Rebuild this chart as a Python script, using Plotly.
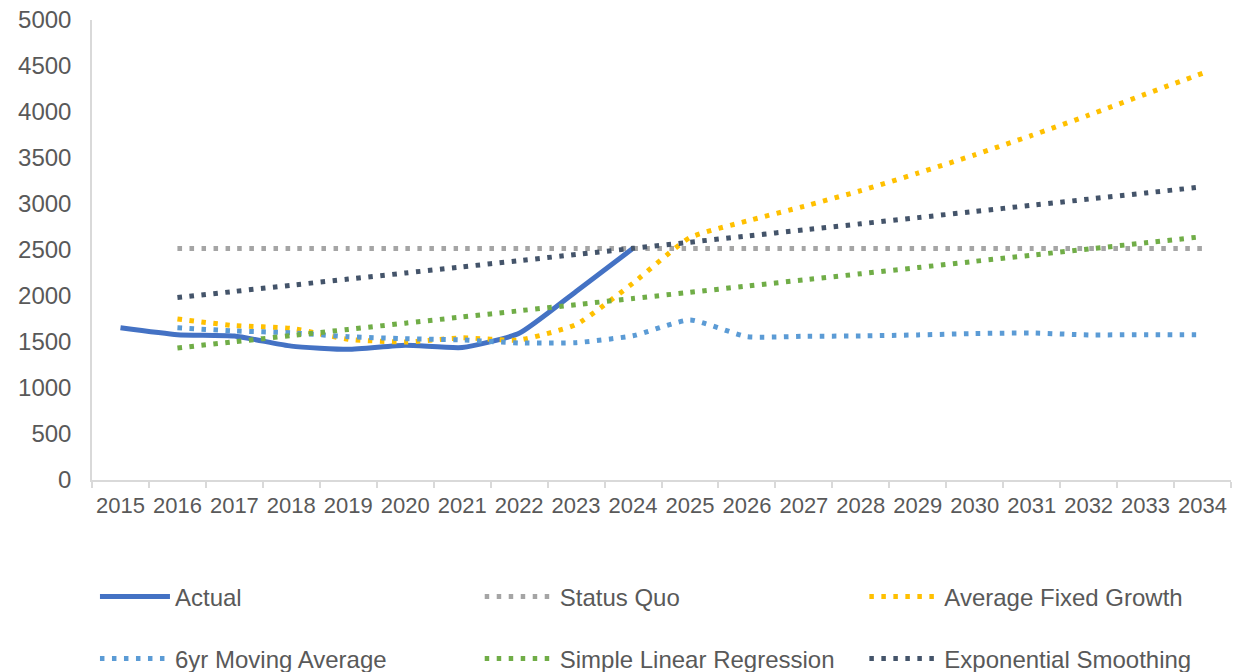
import plotly.graph_objects as go

years = ["2015", "2016", "2017", "2018", "2019", "2020", "2021", "2022", "2023", "2024",
         "2025", "2026", "2027", "2028", "2029", "2030", "2031", "2032", "2033", "2034"]

actual = [1655, 1580, 1565, 1455, 1420, 1465, 1440, 1595, 2050, 2518,
          None, None, None, None, None, None, None, None, None, None]
status_quo = [None, 2515, 2515, 2515, 2515, 2515, 2515, 2515, 2515, 2515,
              2515, 2515, 2515, 2515, 2515, 2515, 2515, 2515, 2515, 2515]
avg_fixed_growth = [None, 1750, 1678, 1648, 1530, 1500, 1545, 1522, 1690, 2140,
                    2635, 2815, 2975, 3145, 3335, 3535, 3745, 3965, 4195, 4420]
moving_avg = [None, 1655, 1620, 1600, 1558, 1536, 1522, 1490, 1493, 1568,
              1740, 1558, 1562, 1566, 1577, 1592, 1598, 1577, 1580, 1580]
linear_reg = [None, 1435, 1503, 1570, 1637, 1705, 1772, 1839, 1906, 1973,
              2040, 2108, 2175, 2242, 2309, 2377, 2444, 2511, 2578, 2645]
exp_smooth = [None, 1983, 2050, 2117, 2184, 2250, 2317, 2384, 2451, 2518,
              2585, 2652, 2719, 2785, 2852, 2919, 2986, 3053, 3120, 3186]

y_ticks = [0, 500, 1000, 1500, 2000, 2500, 3000, 3500, 4000, 4500, 5000]

FONT = "Arial, Liberation Sans, sans-serif"
TXT = "#595959"
AX = "#d9d9d9"
DOT = "4.5px,7.5px"

series = [
    ("Actual", actual, "#4472C4", "solid", 5),
    ("Status Quo", status_quo, "#A5A5A5", DOT, 5),
    ("Average Fixed Growth", avg_fixed_growth, "#FFC000", DOT, 5),
    ("6yr Moving Average", moving_avg, "#5B9BD5", DOT, 5),
    ("Simple Linear Regression", linear_reg, "#70AD47", DOT, 5),
    ("Exponential Smoothing", exp_smooth, "#44546A", DOT, 5),
]

# legend grid: 3 columns x 2 rows (paper coords relative to plot area)
col_x = [0.0026, 0.3404, 0.6781]
row_y = [-0.254, -0.389]

fig = go.Figure()
legend_layouts = {}
for i, (name, vals, color, dash, w) in enumerate(series):
    key = "legend" if i == 0 else f"legend{i + 1}"
    fig.add_trace(go.Scatter(
        x=years, y=vals, name=name, mode="lines",
        line=dict(color=color, width=w, dash=dash, shape="spline", smoothing=0.5),
        connectgaps=False, legend=key,
    ))
    legend_layouts[key] = dict(
        orientation="h", xanchor="left", yanchor="middle",
        x=col_x[i % 3], y=row_y[i // 3], itemwidth=70,
        font=dict(family=FONT, size=24, color=TXT),
        bgcolor="rgba(0,0,0,0)",
    )

# page body has an 8px margin, so the figure is sized/offset to compensate
fig.update_layout(
    width=1243, height=664,
    margin=dict(l=84, r=20, t=12, b=192, autoexpand=False),
    paper_bgcolor="white", plot_bgcolor="white",
    font=dict(family=FONT, size=22, color=TXT),
    showlegend=True,
    xaxis=dict(
        type="category", range=[-0.5, 19.5],
        showline=True, linecolor=AX, linewidth=1.5,
        ticks="outside", tickson="boundaries", ticklen=6, tickcolor=AX, tickwidth=1.5,
        showgrid=False, zeroline=False, tickangle=0,
        tickfont=dict(family=FONT, size=22, color=TXT),
        ticklabelstandoff=5,
    ),
    yaxis=dict(
        range=[0, 5000], tickvals=y_ticks,
        showline=True, linecolor=AX, linewidth=1.5,
        ticks="", showgrid=False, zeroline=False,
        tickfont=dict(family=FONT, size=24, color=TXT),
        ticklabelstandoff=14, ticklabeloverflow="allow",
    ),
    **legend_layouts,
)

fig.write_html("out.html")
